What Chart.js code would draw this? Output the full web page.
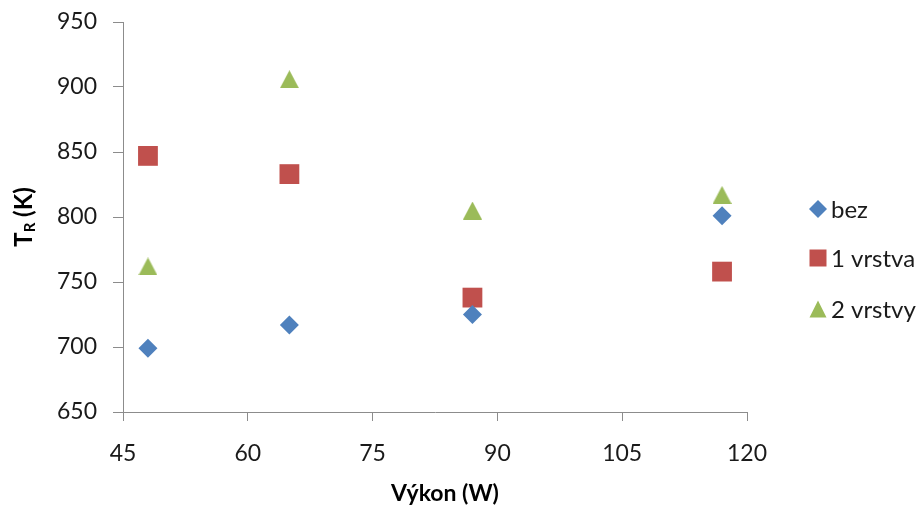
<!DOCTYPE html>
<html>
<head>
<meta charset="utf-8">
<script src="https://cdn.jsdelivr.net/npm/chart.js@4.4.1/dist/chart.umd.min.js"></script>
<style>
  html, body { margin: 0; padding: 0; background: #ffffff; }
  #wrap { width: 917px; height: 506px; }
</style>
</head>
<body>
<div id="wrap"><canvas id="chart" width="917" height="506"></canvas></div>
<script>
// Reactor temperature vs. power for three insulation variants
const power = [48, 65, 87, 117];
const tempBez = [699, 717, 725, 801];
const temp1Vrstva = [847, 833, 738, 758];
const temp2Vrstvy = [762, 906, 805, 817];
const seriesNames = ['bez', '1 vrstva', '2 vrstvy'];
const xTickValues = [45, 60, 75, 90, 105, 120];
const yTickValues = [650, 700, 750, 800, 850, 900, 950];

const COLORS = ['#4f81bd', '#c0504d', '#9bbb59'];
const AXIS_COLOR = '#8c8c8c';
const FONT = 'Lato, "Open Sans", sans-serif';

// Upward triangle marker centred in its own bounding box
function triangleMarker(w, h, color) {
  const c = document.createElement('canvas');
  c.width = w; c.height = h;
  const g = c.getContext('2d');
  g.fillStyle = color;
  g.beginPath();
  g.moveTo(w / 2, 0);
  g.lineTo(w, h);
  g.lineTo(0, h);
  g.closePath();
  g.fill();
  return c;
}

function toPoints(xs, ys) {
  return xs.map((x, i) => ({ x: x, y: ys[i] }));
}

// Axis titles (with subscript) and the side legend
const decorations = {
  id: 'decorations',
  afterDraw(chart) {
    const { ctx, chartArea } = chart;
    ctx.save();
    ctx.fillStyle = '#000';

    // x title
    ctx.font = 'bold 23px ' + FONT;
    ctx.textAlign = 'center';
    ctx.textBaseline = 'middle';
    ctx.fillText('Výkon (W)', (chartArea.left + chartArea.right) / 2 + 10, 494);

    // y title: T with subscript R, then (K)
    ctx.translate(24, (chartArea.top + chartArea.bottom) / 2);
    ctx.rotate(-Math.PI / 2);
    const big = 'bold 24px ' + FONT;
    const small = 'bold 15px ' + FONT;
    ctx.font = big;
    const wT = ctx.measureText('T').width;
    const wRest = ctx.measureText(' (K)').width;
    ctx.font = small;
    const wR = ctx.measureText('R').width;
    let x = -(wT + wR + wRest) / 2;
    ctx.textAlign = 'left';
    ctx.textBaseline = 'alphabetic';
    ctx.font = big;
    ctx.fillText('T', x, 8);
    x += wT;
    ctx.font = small;
    ctx.fillText('R', x, 11);
    x += wR;
    ctx.font = big;
    ctx.fillText(' (K)', x, 8);
    ctx.restore();

    // legend
    ctx.save();
    const mx = chartArea.right + 71;
    const rows = [209, 258, 309];
    ctx.font = '24px ' + FONT;
    ctx.textAlign = 'left';
    ctx.textBaseline = 'middle';
    chart.data.datasets.forEach((ds, i) => {
      const y = rows[i];
      ctx.fillStyle = COLORS[i];
      ctx.beginPath();
      if (i === 0) {
        const r = 9;
        ctx.moveTo(mx - r, y); ctx.lineTo(mx, y - r); ctx.lineTo(mx + r, y); ctx.lineTo(mx, y + r);
      } else if (i === 1) {
        ctx.rect(mx - 8.5, y - 8.5, 17, 17);
      } else {
        ctx.moveTo(mx, y - 8.5); ctx.lineTo(mx + 8.5, y + 8.5); ctx.lineTo(mx - 8.5, y + 8.5);
      }
      ctx.closePath();
      ctx.fill();
      ctx.fillStyle = '#1a1a1a';
      ctx.fillText(ds.label, mx + 13, y + 1);
    });
    ctx.restore();
  }
};

new Chart(document.getElementById('chart'), {
  type: 'scatter',
  data: {
    datasets: [
      {
        label: seriesNames[0],
        data: toPoints(power, tempBez),
        pointStyle: 'rectRot',
        pointRadius: 9.5,
        pointHoverRadius: 9.5,
        backgroundColor: COLORS[0],
        borderWidth: 0
      },
      {
        label: seriesNames[1],
        data: toPoints(power, temp1Vrstva),
        pointStyle: 'rect',
        pointRadius: 14,
        pointHoverRadius: 14,
        backgroundColor: COLORS[1],
        borderWidth: 0
      },
      {
        label: seriesNames[2],
        data: toPoints(power, temp2Vrstvy),
        pointStyle: triangleMarker(19, 18, COLORS[2]),
        pointRadius: 10,
        pointHoverRadius: 10,
        backgroundColor: COLORS[2],
        borderWidth: 0
      }
    ]
  },
  options: {
    responsive: false,
    animation: false,
    events: [],
    layout: { padding: { top: 22, right: 170, bottom: 0, left: 0 } },
    plugins: {
      legend: { display: false },
      tooltip: { enabled: false }
    },
    scales: {
      x: {
        type: 'linear',
        min: xTickValues[0],
        max: xTickValues[xTickValues.length - 1],
        afterBuildTicks: (s) => { s.ticks = xTickValues.map(v => ({ value: v })); },
        afterFit: (s) => { s.height = 94; s.paddingLeft = 0; s.paddingRight = 0; },
        grid: { drawOnChartArea: false, drawTicks: true, tickLength: 9, tickColor: AXIS_COLOR },
        border: { display: true, color: AXIS_COLOR, width: 1 },
        ticks: { color: '#1a1a1a', font: { family: FONT, size: 23 }, padding: 19, maxRotation: 0 }
      },
      y: {
        type: 'linear',
        min: yTickValues[0],
        max: yTickValues[yTickValues.length - 1],
        afterBuildTicks: (s) => { s.ticks = yTickValues.map(v => ({ value: v })); },
        afterFit: (s) => { s.width = 123; s.paddingTop = 0; s.paddingBottom = 0; },
        grid: { drawOnChartArea: false, drawTicks: true, tickLength: 10, tickColor: AXIS_COLOR },
        border: { display: true, color: AXIS_COLOR, width: 1 },
        ticks: { color: '#1a1a1a', font: { family: FONT, size: 23 }, padding: 16 }
      }
    }
  },
  plugins: [decorations]
});
</script>
</body>
</html>
